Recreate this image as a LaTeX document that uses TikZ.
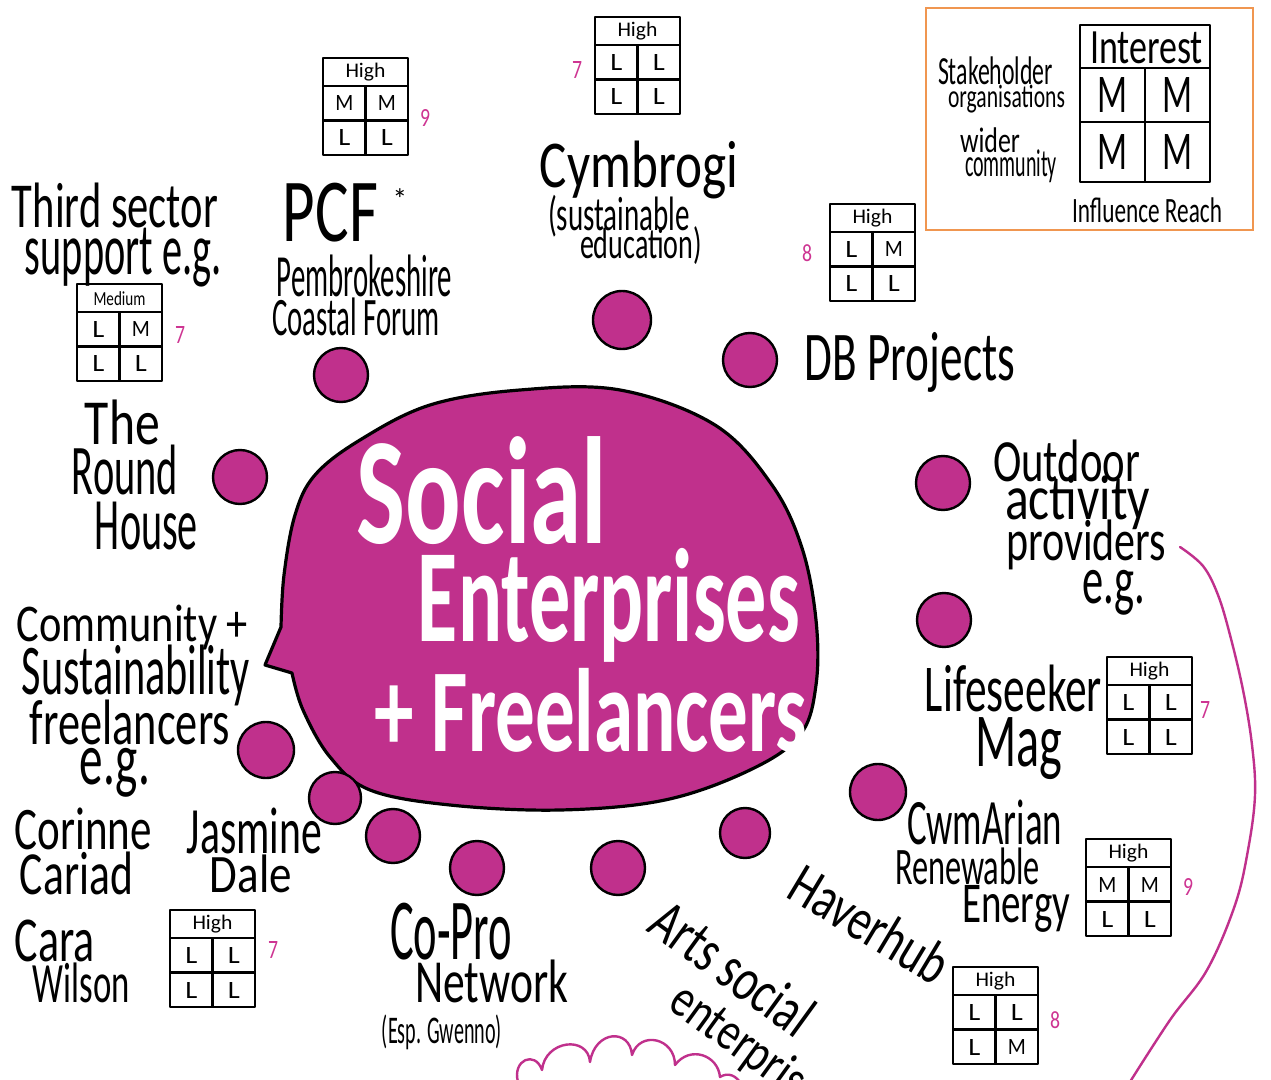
\documentclass[tikz,border=0pt]{standalone}
\usepackage{fontspec}
\setmainfont{Carlito}
\usepackage{graphicx}
\definecolor{bubblepink}{RGB}{192,48,140}
\definecolor{numpink}{RGB}{206,52,146}
\definecolor{legendorange}{RGB}{240,150,80}
\newlength\pxu
\setlength\pxu{0.75pt}
% label line: name, centre x, centre y, ink width, ink height, text
\newcommand\hw[6]{\node[lbl] (#1) at (#2,#3) {\resizebox*{#4\pxu}{#5\pxu}{#6}};}
% pink score next to a grid
\newcommand\pnum[4]{\node[lbl,text=numpink] (#1) at (#2,#3) {\resizebox*{10\pxu}{17\pxu}{#4}};}
% grid cell contents
\newcommand\gH{\resizebox*{40\pxu}{18\pxu}{High}}
\newcommand\gMed{\resizebox*{52\pxu}{14\pxu}{Medium}}
\newcommand\gL{\resizebox*{12\pxu}{16\pxu}{L}}
\newcommand\gM{\resizebox*{18\pxu}{15\pxu}{M}}
% small rating grid: name, top-left x, y, header, four cells
\newcommand\sgrid[8]{%
  \draw[gridline] (#2,#3) rectangle ++(85,97);
  \draw[gridline] (#2,#3+28) -- ++(85,0) (#2,#3+62.5) -- ++(85,0) (#2+42.5,#3+28) -- ++(0,69);
  \node[lbl] (#1-h) at (#2+42.5,#3+14.5) {#4};
  \node[lbl] (#1-a) at (#2+21.25,#3+45.5) {#5};
  \node[lbl] (#1-b) at (#2+63.75,#3+45.5) {#6};
  \node[lbl] (#1-c) at (#2+21.25,#3+80) {#7};
  \node[lbl] (#1-d) at (#2+63.75,#3+80) {#8};
}
\begin{document}
\begin{tikzpicture}[x=0.75pt,y=-0.75pt,
  lbl/.style={inner sep=0pt,outer sep=0pt,anchor=center},
  gridline/.style={draw=black,line width=2pt,line join=round},
  dot/.style={fill=bubblepink,draw=black,line width=1.8pt},
  bubble/.style={fill=bubblepink,draw=black,line width=2.4pt,line join=round},
  pinkline/.style={draw=bubblepink,line width=1.8pt,line cap=round},
  legendline/.style={draw=legendorange,line width=1.8pt}]
\fill[white] (0,0) rectangle (1271,1080);
\useasboundingbox (0,0) rectangle (1271,1080);

% ---- central speech bubble ----
\path[bubble] plot[smooth,tension=0.6] coordinates {(292,673) (303,710) (330,757) (370,790) (450,805) (560,810) (665,800) (750,770) (800,735) (816,685) (816,620) (802,548) (772,485) (715,425) (620,390) (520,390) (430,405) (360,440) (315,475) (295,515) (284,575) (281,627)} -- (265,665) -- cycle;
\node[lbl,text=white] (title1) at (482,491) {\resizebox*{250\pxu}{108\pxu}{\bfseries Social}};
\node[lbl,text=white] (title2) at (609,605) {\resizebox*{382\pxu}{114\pxu}{\bfseries Enterprises}};
\node[lbl,text=white] (title3) at (591,710) {\resizebox*{433\pxu}{84\pxu}{\bfseries + Freelancers}};

% ---- dots around the bubble ----
\path[dot] (341,375) circle (27);
\path[dot] (622,320) circle (29);
\path[dot] (750,360) circle (27);
\path[dot] (240,477) circle (27);
\path[dot] (943,483) circle (27);
\path[dot] (944,620) circle (27);
\path[dot] (878,792) circle (28);
\path[dot] (745,833) circle (25);
\path[dot] (618,868) circle (27);
\path[dot] (477,868) circle (27);
\path[dot] (393,836) circle (27);
\path[dot] (335,798) circle (26);
\path[dot] (266,750) circle (28);

% ---- legend ----
\draw[legendline] (926,8) rectangle (1253,230);
\draw[gridline] (1080,25) rectangle (1210,182);
\draw[gridline] (1080,68) -- (1210,68) (1080,122) -- (1210,122) (1145,68) -- (1145,182);
\hw{interest}{1146.5}{48}{113}{32}{Interest}
\hw{lgm1}{1112.5}{95}{30}{35}{M}
\hw{lgm2}{1177.5}{95}{30}{35}{M}
\hw{lgm3}{1112.5}{152}{30}{35}{M}
\hw{lgm4}{1177.5}{152}{30}{35}{M}
\hw{stake1}{995.5}{71}{115}{28}{Stakeholder}
\hw{stake2}{1006.5}{99}{117}{28}{organisations}
\hw{wide1}{990}{140.5}{60}{25}{wider}
\hw{wide2}{1011}{166.5}{92}{33}{community}
\hw{infl}{1147}{210.5}{150}{25}{Influence Reach}

% ---- rating grids ----
\sgrid{gpcf}{323}{58}{\gH}{\gM}{\gM}{\gL}{\gL}
\sgrid{gcym}{595}{17}{\gH}{\gL}{\gL}{\gL}{\gL}
\sgrid{gdb}{830}{204}{\gH}{\gL}{\gM}{\gL}{\gL}
\sgrid{gthird}{77}{284}{\gMed}{\gL}{\gM}{\gL}{\gL}
\sgrid{glife}{1107}{657}{\gH}{\gL}{\gL}{\gL}{\gL}
\sgrid{gcwm}{1086}{839}{\gH}{\gM}{\gM}{\gL}{\gL}
\sgrid{ghav}{953}{967}{\gH}{\gL}{\gL}{\gL}{\gM}
\sgrid{gcara}{170}{910}{\gH}{\gL}{\gL}{\gL}{\gL}
\pnum{npcf}{425}{118}{9}
\pnum{ncym}{577}{70}{7}
\pnum{ndb}{807}{253}{8}
\pnum{nthird}{180}{335}{7}
\pnum{nlife}{1205}{710}{7}
\pnum{ncwm}{1188}{887}{9}
\pnum{nhav}{1055}{1020}{8}
\pnum{ncara}{273}{950}{7}

% ---- labels ----
\hw{third1}{115}{205.5}{206}{45}{Third sector}
\hw{third2}{123.5}{257.5}{197}{59}{support e.g.}
\hw{pcf1}{330.5}{212.5}{95}{59}{PCF}
\node[lbl] (star) at (400,199) {\fontsize{22}{22}\selectfont *};
\hw{pcf2}{364.5}{276}{175}{42}{Pembrokeshire}
\hw{pcf3}{356}{317}{168}{38}{Coastal Forum}
\hw{cym1}{639}{170}{198}{58}{Cymbrogi}
\hw{cym2}{619}{216}{142}{42}{(sustainable}
\hw{cym3}{641}{246}{122}{38}{education)}
\hw{db}{910}{362}{210}{60}{DB Projects}
\hw{rh1}{122.5}{422.5}{75}{45}{The}
\hw{rh2}{125}{470}{106}{50}{Round}
\hw{rh3}{146.5}{526}{103}{48}{House}
\hw{out1}{1066.5}{461}{147}{42}{Outdoor}
\hw{out2}{1077.5}{503}{145}{54}{activity}
\hw{out3}{1086}{545}{160}{50}{providers}
\hw{out4}{1113.5}{592.5}{63}{45}{e.g.}
\hw{life1}{1013.5}{688.5}{177}{47}{Lifeseeker}
\hw{life2}{1018.5}{749}{87}{62}{Mag}
\hw{cwm1}{984.5}{822.5}{155}{45}{CwmArian}
\hw{cwm2}{967.5}{866.5}{145}{37}{Renewable}
\hw{cwm3}{1016}{908.5}{108}{47}{Energy}
\hw{copro1}{451}{931.5}{122}{57}{Co-Pro}
\hw{copro2}{491.5}{981.5}{153}{43}{Network}
\hw{copro3}{442}{1032.5}{120}{35}{(Esp. Gwenno)}
\hw{com1}{132.5}{627.5}{231}{45}{Community +}
\hw{com2}{136}{675.5}{228}{61}{Sustainability}
\hw{com3}{130}{722.5}{200}{45}{freelancers}
\hw{com4}{115}{772.5}{70}{49}{e.g.}
\hw{cor1}{83.5}{829}{137}{42}{Corinne}
\hw{cor2}{76.5}{873.5}{113}{43}{Cariad}
\hw{jas1}{254.5}{831}{135}{46}{Jasmine}
\hw{jas2}{251}{874}{82}{38}{Dale}
\hw{cara1}{55}{941}{80}{42}{Cara}
\hw{cara2}{81.5}{983}{97}{40}{Wilson}
\node[lbl,rotate=-31] (haver) at (870,924) {\resizebox*{175\pxu}{42\pxu}{Haverhub}};
\node[lbl,rotate=-36] (arts1) at (733,968) {\resizebox*{185\pxu}{43\pxu}{Arts social}};
\node[lbl,rotate=-36] (arts2) at (746,1048) {\resizebox*{176\pxu}{46\pxu}{enterprise}};

% ---- pink sweep on the right and cloud at the foot ----
\draw[pinkline] plot[smooth,tension=0.6] coordinates {(1180,547) (1203,566) (1218,595) (1230,635) (1243,690) (1252,745) (1255,795) (1248,850) (1235,905) (1207,970) (1170,1020) (1128,1085)};
\draw[pinkline,line join=round] (518,1082) .. controls (512,1060) and (535,1050) .. (542,1070)
  .. controls (545,1040) and (588,1035) .. (590,1062)
  .. controls (595,1030) and (630,1028) .. (632,1055)
  .. controls (640,1030) and (675,1038) .. (675,1065)
  .. controls (690,1045) and (718,1055) .. (720,1077)
  .. controls (728,1072) and (736,1075) .. (742,1085);
\end{tikzpicture}
\end{document}
